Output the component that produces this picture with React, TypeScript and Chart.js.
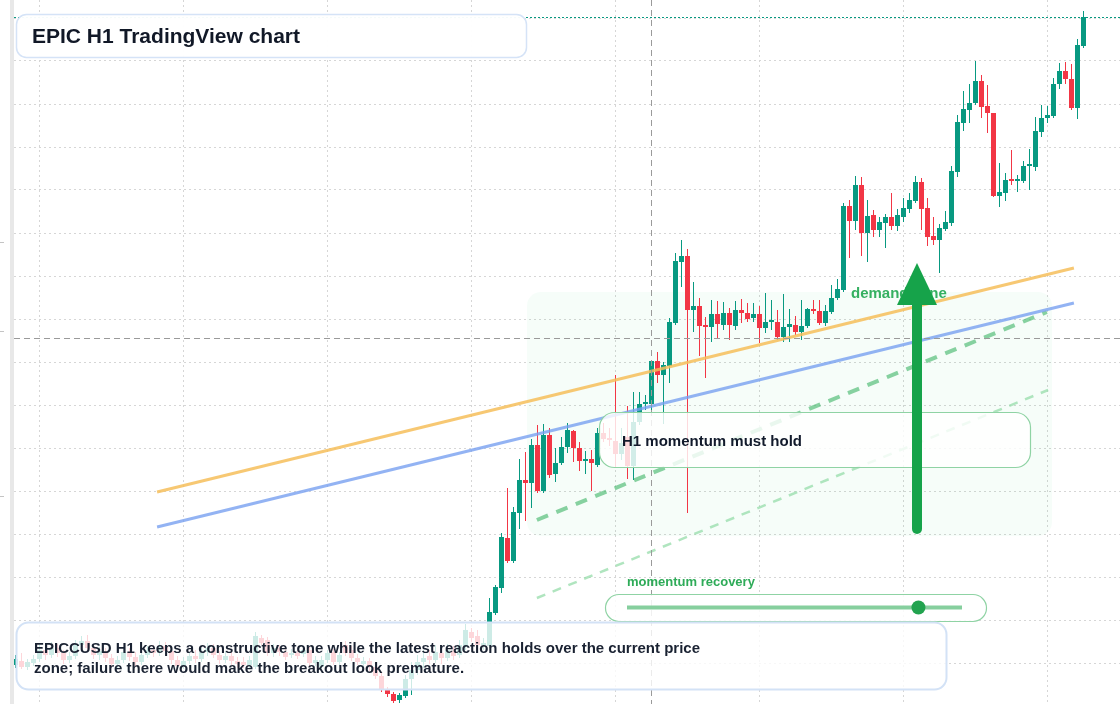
import React, { useEffect, useRef } from 'react';
import { Chart, registerables } from 'chart.js';

Chart.register(...registerables);

// ---- Candle data (EPICCUSD, H1) ----
const opens = [
  0.585, 0.589, 0.583, 0.587, 0.591, 0.600, 0.595, 0.602, 0.597, 0.590,
  0.594, 0.605, 0.609, 0.602, 0.595, 0.599, 0.592, 0.586, 0.590, 0.598,
  0.593, 0.588, 0.595, 0.600, 0.597, 0.604, 0.599, 0.590, 0.584, 0.589,
  0.594, 0.591, 0.598, 0.602, 0.595, 0.590, 0.594, 0.589, 0.588, 0.585,
  0.583, 0.612, 0.610, 0.597, 0.602, 0.598, 0.595, 0.597, 0.596, 0.600,
  0.587, 0.583, 0.590, 0.598, 0.588, 0.605, 0.600, 0.592, 0.586, 0.589,
  0.583, 0.574, 0.561, 0.556, 0.550, 0.554, 0.571, 0.580, 0.588, 0.594,
  0.590, 0.597, 0.592, 0.599, 0.595, 0.603, 0.618, 0.614, 0.605, 0.604,
  0.637, 0.662, 0.712, 0.689, 0.737, 0.770, 0.767, 0.805, 0.759, 0.815,
  0.776, 0.787, 0.803, 0.819, 0.802, 0.789, 0.791, 0.785, 0.817, 0.811,
  0.809, 0.796, 0.813, 0.784, 0.828, 0.846, 0.846, 0.889, 0.875, 0.884,
  0.927, 0.988, 0.994, 0.940, 0.944, 0.924, 0.923, 0.936, 0.925, 0.937,
  0.924, 0.940, 0.937, 0.932, 0.936, 0.922, 0.928, 0.928, 0.913, 0.923,
  0.925, 0.918, 0.924, 0.941, 0.939, 0.927, 0.938, 0.952, 0.960, 1.044,
  1.029, 1.065, 1.017, 1.035, 1.020, 1.027, 1.033, 1.024, 1.033, 1.041,
  1.049, 1.068, 1.042, 1.014, 1.010, 1.021, 1.027, 1.078, 1.127, 1.140,
  1.147, 1.169, 1.144, 1.137, 1.054, 1.057, 1.070, 1.069, 1.069, 1.084,
  1.083, 1.118, 1.132, 1.134, 1.166, 1.179, 1.171, 1.142, 1.204,
];
const highs = [
  0.595, 0.597, 0.591, 0.595, 0.605, 0.604, 0.608, 0.606, 0.600, 0.598,
  0.610, 0.614, 0.615, 0.606, 0.603, 0.602, 0.596, 0.594, 0.602, 0.602,
  0.598, 0.599, 0.604, 0.605, 0.609, 0.608, 0.602, 0.594, 0.593, 0.598,
  0.600, 0.602, 0.607, 0.606, 0.599, 0.598, 0.599, 0.593, 0.593, 0.594,
  0.618, 0.615, 0.613, 0.606, 0.605, 0.602, 0.601, 0.600, 0.604, 0.603,
  0.594, 0.594, 0.600, 0.601, 0.598, 0.609, 0.604, 0.596, 0.593, 0.592,
  0.587, 0.578, 0.563, 0.558, 0.557, 0.575, 0.588, 0.595, 0.600, 0.600,
  0.605, 0.602, 0.606, 0.604, 0.610, 0.626, 0.622, 0.620, 0.612, 0.652,
  0.665, 0.717, 0.762, 0.743, 0.791, 0.798, 0.811, 0.825, 0.826, 0.822,
  0.802, 0.813, 0.827, 0.820, 0.808, 0.799, 0.800, 0.822, 0.827, 0.822,
  0.875, 0.822, 0.844, 0.858, 0.858, 0.855, 0.889, 0.898, 0.888, 0.932,
  0.997, 1.010, 1.001, 0.968, 0.952, 0.933, 0.950, 0.949, 0.948, 0.942,
  0.949, 0.951, 0.947, 0.947, 0.944, 0.957, 0.950, 0.940, 0.956, 0.941,
  0.934, 0.950, 0.942, 0.950, 0.950, 0.945, 0.965, 0.971, 1.047, 1.050,
  1.074, 1.073, 1.050, 1.040, 1.033, 1.036, 1.057, 1.041, 1.052, 1.057,
  1.074, 1.072, 1.052, 1.033, 1.026, 1.039, 1.084, 1.135, 1.159, 1.166,
  1.189, 1.175, 1.165, 1.137, 1.087, 1.077, 1.100, 1.075, 1.089, 1.101,
  1.133, 1.145, 1.144, 1.172, 1.187, 1.188, 1.186, 1.211, 1.239,
];
const lows = [
  0.582, 0.581, 0.580, 0.584, 0.588, 0.590, 0.592, 0.593, 0.586, 0.587,
  0.591, 0.601, 0.598, 0.591, 0.590, 0.588, 0.583, 0.582, 0.587, 0.589,
  0.584, 0.585, 0.592, 0.593, 0.594, 0.595, 0.586, 0.580, 0.581, 0.586,
  0.587, 0.588, 0.594, 0.592, 0.586, 0.587, 0.585, 0.582, 0.582, 0.582,
  0.581, 0.605, 0.594, 0.593, 0.594, 0.590, 0.592, 0.591, 0.593, 0.584,
  0.584, 0.581, 0.587, 0.585, 0.585, 0.594, 0.589, 0.585, 0.583, 0.579,
  0.571, 0.558, 0.553, 0.547, 0.547, 0.552, 0.555, 0.575, 0.582, 0.586,
  0.587, 0.586, 0.589, 0.590, 0.592, 0.600, 0.608, 0.602, 0.600, 0.602,
  0.635, 0.657, 0.687, 0.687, 0.721, 0.729, 0.742, 0.757, 0.757, 0.772,
  0.768, 0.785, 0.797, 0.788, 0.779, 0.776, 0.759, 0.783, 0.808, 0.804,
  0.783, 0.790, 0.771, 0.770, 0.825, 0.840, 0.840, 0.867, 0.826, 0.867,
  0.925, 0.963, 0.737, 0.918, 0.894, 0.872, 0.908, 0.912, 0.920, 0.910,
  0.920, 0.927, 0.928, 0.928, 0.907, 0.917, 0.920, 0.910, 0.908, 0.908,
  0.915, 0.910, 0.922, 0.936, 0.925, 0.924, 0.936, 0.950, 0.958, 0.992,
  1.020, 0.994, 0.988, 1.013, 1.013, 1.002, 1.020, 1.019, 1.028, 1.037,
  1.047, 1.020, 1.004, 1.005, 0.977, 1.019, 1.024, 1.073, 1.119, 1.127,
  1.145, 1.132, 1.117, 1.053, 1.043, 1.049, 1.065, 1.058, 1.067, 1.060,
  1.079, 1.113, 1.127, 1.132, 1.161, 1.166, 1.140, 1.131, 1.202,
];
const closes = [
  0.591, 0.583, 0.588, 0.591, 0.600, 0.595, 0.602, 0.597, 0.590, 0.594,
  0.605, 0.609, 0.602, 0.595, 0.599, 0.592, 0.586, 0.590, 0.598, 0.593,
  0.588, 0.595, 0.600, 0.597, 0.604, 0.599, 0.590, 0.584, 0.589, 0.594,
  0.591, 0.598, 0.602, 0.595, 0.590, 0.594, 0.589, 0.586, 0.585, 0.590,
  0.614, 0.607, 0.597, 0.602, 0.598, 0.593, 0.597, 0.594, 0.600, 0.587,
  0.590, 0.590, 0.597, 0.588, 0.595, 0.597, 0.592, 0.588, 0.589, 0.583,
  0.574, 0.560, 0.556, 0.549, 0.555, 0.571, 0.580, 0.588, 0.592, 0.590,
  0.598, 0.592, 0.600, 0.594, 0.605, 0.620, 0.612, 0.605, 0.607, 0.638,
  0.663, 0.713, 0.689, 0.738, 0.770, 0.767, 0.805, 0.759, 0.815, 0.775,
  0.787, 0.803, 0.820, 0.802, 0.789, 0.791, 0.787, 0.817, 0.811, 0.810,
  0.796, 0.807, 0.784, 0.828, 0.846, 0.847, 0.889, 0.875, 0.885, 0.928,
  0.989, 0.994, 0.940, 0.944, 0.924, 0.923, 0.936, 0.926, 0.937, 0.925,
  0.940, 0.937, 0.931, 0.936, 0.922, 0.928, 0.929, 0.913, 0.923, 0.926,
  0.918, 0.924, 0.941, 0.939, 0.927, 0.939, 0.952, 0.961, 1.044, 1.029,
  1.065, 1.017, 1.034, 1.020, 1.028, 1.033, 1.024, 1.035, 1.042, 1.050,
  1.068, 1.041, 1.013, 1.010, 1.022, 1.028, 1.079, 1.128, 1.141, 1.147,
  1.169, 1.143, 1.137, 1.054, 1.058, 1.070, 1.069, 1.070, 1.084, 1.085,
  1.119, 1.132, 1.135, 1.166, 1.179, 1.171, 1.142, 1.205, 1.233,
];

// ---- Grid (hour index of each day start, price levels) ----
const dayStartIndices = [4, 28, 52, 76, 100, 124, 148, 172];
const gridPrices = [
  1.232, 1.189, 1.146, 1.103, 1.060, 1.017, 0.974, 0.931,
  0.888, 0.845, 0.802, 0.759, 0.716, 0.673, 0.630, 0.587,
];

// ---- Drawn trend lines (index, price) ----
const upperChannel = [{ x: 23.6, y: 0.758 }, { x: 176.4, y: 0.982 }];
const lowerChannel = [{ x: 23.6, y: 0.723 }, { x: 176.4, y: 0.947 }];
const supportDashed = [{ x: 86.9, y: 0.730 }, { x: 171.9, y: 0.938 }];
const supportFaint = [{ x: 86.9, y: 0.652 }, { x: 172.1, y: 0.860 }];

// ---- Zone, crosshair, arrow (index / price) ----
const demandZone = { x0: 85.25, x1: 172.75, top: 0.958, bottom: 0.714 };
const crosshair = { index: 105.9, price: 0.912 };
const arrowMark = { index: 150.25, tip: 0.987, headBase: 0.945, tail: 0.721 };
const lastPrice = closes[closes.length - 1];

// ---- Texts ----
const titleText = 'EPIC H1 TradingView chart';
const noteLines = [
  'EPICCUSD H1 keeps a constructive tone while the latest reaction holds over the current price',
  'zone; failure there would make the breakout look premature.',
];
const calloutText = 'H1 momentum must hold';
const zoneLabel = 'demand zone';
const meterLabel = 'momentum recovery';
const meterValue = 0.87;

const UP = '#089981';
const DOWN = '#f23645';
const GREEN = '#16a34a';
const FONT = '"Liberation Sans", Arial, Helvetica, sans-serif';

function rr(ctx: CanvasRenderingContext2D, x: number, y: number, w: number, h: number, r: number) {
  ctx.beginPath();
  ctx.moveTo(x + r, y);
  ctx.arcTo(x + w, y, x + w, y + h, r);
  ctx.arcTo(x + w, y + h, x, y + h, r);
  ctx.arcTo(x, y + h, x, y, r);
  ctx.arcTo(x, y, x + w, y, r);
  ctx.closePath();
}

function box(ctx: CanvasRenderingContext2D, x: number, y: number, w: number, h: number, r: number, fill: string, stroke: string, lw: number) {
  rr(ctx, x + 0.5, y + 0.5, w, h, r);
  ctx.fillStyle = fill;
  ctx.fill();
  ctx.lineWidth = lw;
  ctx.strokeStyle = stroke;
  ctx.stroke();
}

const overlayPlugin = {
  id: 'overlayPlugin',
  beforeDraw(chart: any) {
    const ctx: CanvasRenderingContext2D = chart.ctx;
    ctx.save();
    ctx.fillStyle = '#ffffff';
    ctx.fillRect(0, 0, chart.width, chart.height);
    ctx.fillStyle = '#e8e8e8';
    ctx.fillRect(10, 0, 4, chart.height);
    ctx.fillStyle = '#c4c4c4';
    [242, 331, 496].forEach((y) => ctx.fillRect(0, y, 4, 1));
    ctx.restore();
  },
  beforeDatasetsDraw(chart: any) {
    const ctx: CanvasRenderingContext2D = chart.ctx;
    const xs = chart.scales.x;
    const ys = chart.scales.y;
    const x0 = xs.getPixelForValue(demandZone.x0);
    const x1 = xs.getPixelForValue(demandZone.x1);
    const y0 = ys.getPixelForValue(demandZone.top);
    const y1 = ys.getPixelForValue(demandZone.bottom);
    ctx.save();
    rr(ctx, x0, y0, x1 - x0, y1 - y0, 14);
    ctx.fillStyle = 'rgba(34, 197, 94, 0.038)';
    ctx.fill();
    ctx.restore();
  },
  afterDatasetsDraw(chart: any) {
    const ctx: CanvasRenderingContext2D = chart.ctx;
    const xs = chart.scales.x;
    const ys = chart.scales.y;
    const area = chart.chartArea;
    ctx.save();

    // crosshair
    ctx.strokeStyle = '#9a9a9a';
    ctx.lineWidth = 1;
    ctx.setLineDash([6, 4]);
    const cy = Math.round(ys.getPixelForValue(crosshair.price)) + 0.5;
    const cx = Math.round(xs.getPixelForValue(crosshair.index)) + 0.5;
    ctx.beginPath();
    ctx.moveTo(area.left, cy);
    ctx.lineTo(area.right, cy);
    ctx.moveTo(cx, 0);
    ctx.lineTo(cx, chart.height);
    ctx.stroke();

    // last price line
    ctx.strokeStyle = UP;
    ctx.setLineDash([2, 2]);
    const py = Math.round(ys.getPixelForValue(lastPrice)) + 0.5;
    ctx.beginPath();
    ctx.moveTo(area.left, py);
    ctx.lineTo(area.right, py);
    ctx.stroke();
    ctx.setLineDash([]);

    // title box
    box(ctx, 16, 14, 510, 43, 10, 'rgba(255,255,255,0.96)', '#d5e3f7', 1.5);
    ctx.fillStyle = '#111827';
    ctx.font = `bold 21px ${FONT}`;
    ctx.textBaseline = 'middle';
    ctx.fillText(titleText, 32, 37);

    // callout box
    box(ctx, 599, 412, 431, 55, 15, 'rgba(255,255,255,0.82)', '#8fd3a4', 1.2);
    ctx.fillStyle = '#111a2b';
    ctx.font = `bold 15px ${FONT}`;
    ctx.fillText(calloutText, 622, 441.5);

    // meter
    ctx.fillStyle = '#2eab58';
    ctx.font = `bold 13px ${FONT}`;
    ctx.fillText(meterLabel, 627, 582.5);
    box(ctx, 605, 594, 381, 27, 13.5, 'rgba(255,255,255,0.85)', '#8fd3a4', 1.2);
    const mx0 = 627, mx1 = 962, my = 607.5;
    ctx.strokeStyle = '#86cf9e';
    ctx.lineWidth = 4;
    ctx.beginPath();
    ctx.moveTo(mx0, my);
    ctx.lineTo(mx1, my);
    ctx.stroke();
    ctx.fillStyle = '#22a34f';
    ctx.beginPath();
    ctx.arc(mx0 + (mx1 - mx0) * meterValue, my, 7, 0, Math.PI * 2);
    ctx.fill();

    // note box
    box(ctx, 16, 622, 930, 67, 12, 'rgba(255,255,255,0.8)', '#d3e2f6', 2);
    ctx.fillStyle = '#1a2232';
    ctx.font = `bold 15px ${FONT}`;
    ctx.fillText(noteLines[0], 34, 648.5);
    ctx.fillText(noteLines[1], 34, 668.5);

    // zone label
    ctx.fillStyle = '#35b061';
    ctx.font = `bold 15px ${FONT}`;
    ctx.fillText(zoneLabel, 851, 293.5);

    // arrow
    const ax = xs.getPixelForValue(arrowMark.index);
    const tipY = ys.getPixelForValue(arrowMark.tip);
    const baseY = ys.getPixelForValue(arrowMark.headBase);
    const tailY = ys.getPixelForValue(arrowMark.tail);
    ctx.strokeStyle = GREEN;
    ctx.fillStyle = GREEN;
    ctx.lineWidth = 10;
    ctx.lineCap = 'round';
    ctx.beginPath();
    ctx.moveTo(ax, tailY);
    ctx.lineTo(ax, baseY);
    ctx.stroke();
    ctx.beginPath();
    ctx.moveTo(ax, tipY);
    ctx.lineTo(ax + 20, baseY);
    ctx.lineTo(ax - 20, baseY);
    ctx.closePath();
    ctx.fill();

    ctx.restore();
  },
};

export default function App() {
  const canvasRef = useRef<HTMLCanvasElement | null>(null);

  useEffect(() => {
    document.body.style.margin = '0';
    const canvas = canvasRef.current;
    if (!canvas) return;
    const idx = opens.map((_, i) => i);
    const colors = idx.map((i) => (closes[i] >= opens[i] ? UP : DOWN));
    const wickData = idx.map((i) => ({ x: i, y: [lows[i], highs[i]] }));
    const bodyData = idx.map((i) => ({ x: i, y: [opens[i], closes[i]] }));
    const lineDs = (data: any[], color: string, width: number, dash: number[], order: number) => ({
      type: 'line' as const,
      data,
      borderColor: color,
      borderWidth: width,
      borderDash: dash,
      pointRadius: 0,
      fill: false,
      tension: 0,
      order,
    });

    const chart = new Chart(canvas, {
      type: 'bar',
      data: {
        datasets: [
          {
            type: 'bar',
            data: wickData as any,
            backgroundColor: colors,
            barThickness: 1,
            maxBarThickness: 1,
            grouped: false,
            borderWidth: 0,
            inflateAmount: 0,
            order: 4,
          } as any,
          {
            type: 'bar',
            data: bodyData as any,
            backgroundColor: colors,
            barThickness: 5,
            maxBarThickness: 5,
            grouped: false,
            borderWidth: 0,
            inflateAmount: 0,
            minBarLength: 2,
            order: 3,
          } as any,
          lineDs(supportFaint, 'rgba(150, 220, 170, 0.75)', 2.5, [9, 8], 2),
          lineDs(supportDashed, 'rgba(60, 180, 100, 0.6)', 4, [12, 9], 1),
          lineDs(lowerChannel, 'rgba(120, 160, 240, 0.8)', 3, [], 0),
          lineDs(upperChannel, 'rgba(246, 190, 90, 0.85)', 3, [], 0),
        ],
      },
      options: {
        responsive: false,
        animation: false,
        events: [],
        layout: { padding: { left: 14, right: 0, top: 0, bottom: 0 } },
        plugins: {
          legend: { display: false },
          tooltip: { enabled: false },
          title: { display: false },
        },
        scales: {
          x: {
            type: 'linear',
            min: -0.25,
            max: -0.25 + 1106 / 6,
            offset: false,
            ticks: { display: false },
            grid: { color: '#d6d6d6', lineWidth: 1, drawTicks: false, offset: false },
            border: { display: false, dash: [2, 3] },
            afterBuildTicks: (s: any) => {
              s.ticks = dayStartIndices.map((v) => ({ value: v }));
            },
          },
          y: {
            type: 'linear',
            min: 0.546,
            max: 1.25,
            beginAtZero: false,
            ticks: { display: false },
            grid: { color: '#d6d6d6', lineWidth: 1, drawTicks: false },
            border: { display: false, dash: [2, 3] },
            afterBuildTicks: (s: any) => {
              s.ticks = gridPrices.map((v) => ({ value: v }));
            },
          },
        },
      } as any,
      plugins: [overlayPlugin],
    });
    return () => chart.destroy();
  }, []);

  return (
    <div style={{ position: 'fixed', left: 0, top: 0, width: 1120, height: 704, background: '#fff' }}>
      <canvas ref={canvasRef} width={1120} height={704} style={{ display: 'block', width: 1120, height: 704 }} />
    </div>
  );
}
